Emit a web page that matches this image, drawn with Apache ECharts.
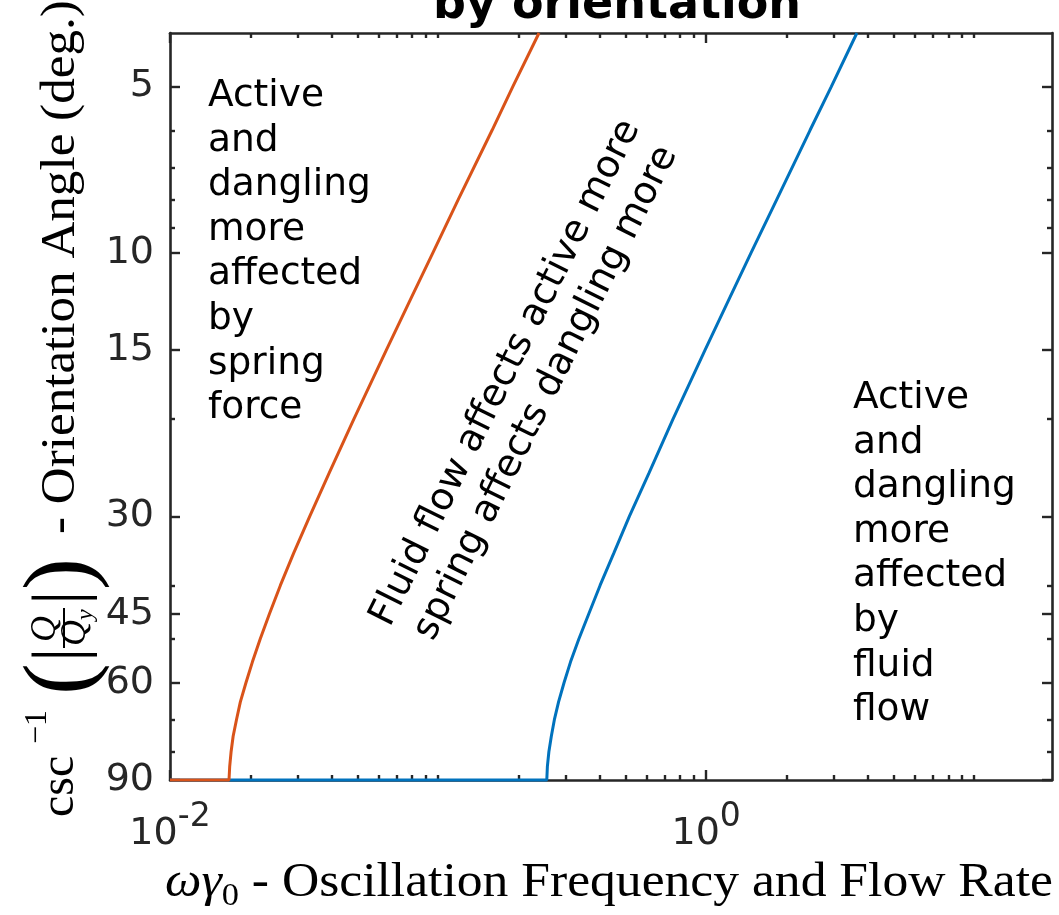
<!DOCTYPE html>
<html><head><meta charset="utf-8">
<script src="https://cdn.jsdelivr.net/npm/echarts@6/dist/echarts.min.js"></script>
<style>html,body{margin:0;padding:0;background:#fff}#c{width:1059px;height:915px}</style>
</head><body><div id="c"></div>
<script>
// ---- data ----
const angles      = [90, 85, 80, 75, 70, 65, 60, 55, 50, 45, 40, 35, 30, 25, 20, 15, 12, 10, 8, 6, 5, 4];
const orangeX     = [0.0166, 0.0167, 0.0169, 0.0172, 0.0177, 0.0183, 0.0192, 0.0203, 0.0217, 0.0235, 0.0258, 0.0289, 0.0332, 0.0393, 0.0485, 0.0641, 0.0798, 0.0956, 0.119, 0.159, 0.190, 0.238];
const blueX       = [0.2544, 0.2557, 0.259, 0.2645, 0.2715, 0.2815, 0.295, 0.312, 0.335, 0.365, 0.402, 0.452, 0.517, 0.613, 0.752, 0.99, 1.23, 1.47, 1.835, 2.44, 2.93, 3.65];
const startPoint  = [0.01, 90];
const xMajorTicks = [0.01, 1];
const xMinorTicks = [0.02,0.03,0.04,0.05,0.06,0.07,0.08,0.09,0.1,0.2,0.3,0.4,0.5,0.6,0.7,0.8,0.9,2,3,4,5,6,7,8,9,10];
const yMajorTicks = [5, 10, 15, 30, 45, 60, 90];
const yMinorTicks = [6, 7, 8, 9, 20, 40, 50, 70, 80];
const xRange = [0.01, 19.5];
const yRange = [4, 90];
const titleText = 'by orientation';
const leftNote  = ['Active','and','dangling','more','affected','by','spring','force'];
const rightNote = ['Active','and','dangling','more','affected','by','fluid','flow'];
const midNote   = ['Fluid flow affects active more','spring affects dangling more'];
const yLabelMain = '- Orientation Angle (deg.)';
const xLabelMain = ' - Oscillation Frequency and Flow Rate';

const AX = '#262626';
const TICKFONT = '"DejaVu Sans"';
const SERIF = '"Liberation Serif"';

function mkX(pos, custom, len, showLabel, showLine) {
  return {
    type: 'log', logBase: 10, min: xRange[0], max: xRange[1], position: pos, gridIndex: 0,
    axisLine: { show: showLine, onZero: false, lineStyle: { color: AX, width: 2.6 } },
    axisTick: { show: true, inside: true, length: len, customValues: custom, lineStyle: { color: AX, width: 2.4 } },
    axisLabel: showLabel ? {
      show: true, customValues: custom, margin: 21,
      formatter: v => '{b|10}{s|' + Math.round(Math.log10(v)) + '}',
      rich: {
        b: { fontSize: 38, fontFamily: TICKFONT, color: AX, lineHeight: 52, verticalAlign: 'bottom' },
        s: { fontSize: 33, fontFamily: TICKFONT, color: AX, lineHeight: 33, verticalAlign: 'top' }
      }
    } : { show: false },
    splitLine: { show: false }, minorTick: { show: false }, minorSplitLine: { show: false }
  };
}
function mkY(pos, custom, len, showLabel, showLine) {
  return {
    type: 'log', logBase: 10, min: yRange[0], max: yRange[1], inverse: true, position: pos, gridIndex: 0,
    axisLine: { show: showLine, onZero: false, lineStyle: { color: AX, width: 2.6 } },
    axisTick: { show: true, inside: true, length: len, customValues: custom, lineStyle: { color: AX, width: 2.4 } },
    axisLabel: showLabel ? {
      show: true, customValues: custom, margin: 16, fontSize: 38, fontFamily: TICKFONT, color: AX,
      formatter: v => String(Math.round(v))
    } : { show: false },
    splitLine: { show: false }, minorTick: { show: false }, minorSplitLine: { show: false }
  };
}

const orangeData = [startPoint].concat(angles.map((a, i) => [orangeX[i], a]));
const blueData   = [startPoint].concat(angles.map((a, i) => [blueX[i], a]));

const noteStyle = (lines, x, y) => ({
  type: 'text', x: x, y: y, z: 50,
  style: { text: lines.join('\n'), fontSize: 37.5, fontFamily: TICKFONT, fill: '#000', lineHeight: 44.6, align: 'left', verticalAlign: 'top' }
});

const yLabelGroup = {
  type: 'group', x: 0, y: 840, rotation: Math.PI / 2, z: 50,
  children: [
    { type: 'text', x: 23, y: 60, style: { text: 'csc', font: '48px ' + SERIF, fill: '#000', verticalAlign: 'middle', align: 'left' } },
    { type: 'text', x: 96, y: 38, style: { text: '\u22121', font: '32px ' + SERIF, fill: '#000', verticalAlign: 'middle', align: 'left' } },
    { type: 'text', x: 145, y: 64, style: { text: '(', font: '96px ' + SERIF, fill: '#000', verticalAlign: 'middle', align: 'left' } },
    { type: 'text', x: 178, y: 63, style: { text: '|', font: '72px ' + SERIF, fill: '#000', verticalAlign: 'middle', align: 'left' } },
    { type: 'text', x: 211, y: 46, style: { text: 'Q', font: 'italic 36px ' + SERIF, fill: '#000', verticalAlign: 'middle', align: 'center' } },
    { type: 'line', shape: { x1: 192, y1: 64, x2: 232, y2: 64 }, style: { stroke: '#000', lineWidth: 2 } },
    { type: 'text', x: 194, y: 78, style: { text: '{q|Q}{y|y}', fill: '#000', verticalAlign: 'middle', align: 'left',
        rich: { q: { font: 'italic 36px ' + SERIF, lineHeight: 40, verticalAlign: 'top' }, y: { font: 'italic 24px ' + SERIF, lineHeight: 24, verticalAlign: 'bottom' } } } },
    { type: 'text', x: 235, y: 63, style: { text: '|', font: '72px ' + SERIF, fill: '#000', verticalAlign: 'middle', align: 'left' } },
    { type: 'text', x: 250, y: 64, style: { text: ')', font: '96px ' + SERIF, fill: '#000', verticalAlign: 'middle', align: 'left' } },
    { type: 'text', x: 306, y: 61, scaleX: 1.065, style: { text: yLabelMain, font: '48px ' + SERIF, fill: '#000', verticalAlign: 'middle', align: 'left' } }
  ]
};

const xLabel = {
  type: 'text', x: 165, y: 883, scaleX: 1.075, z: 50,
  style: {
    text: '{it|\u03C9\u03B3}{sub|0}{r|' + xLabelMain + '}', verticalAlign: 'middle', align: 'left', fill: '#000',
    rich: {
      it: { font: 'italic 48px ' + SERIF, lineHeight: 60, verticalAlign: 'middle', fill: '#000' },
      sub: { font: '32px ' + SERIF, lineHeight: 32, verticalAlign: 'bottom', fill: '#000' },
      r: { font: '48px ' + SERIF, lineHeight: 60, verticalAlign: 'middle', fill: '#000' }
    }
  }
};

const chart = echarts.init(document.getElementById('c'), null, { renderer: 'canvas' });
chart.setOption({
  backgroundColor: '#fff',
  animation: false,
  grid: { left: 170, right: 7, top: 33, bottom: 135, containLabel: false },
  xAxis: [
    mkX('bottom', xMajorTicks, 10, true, true),
    mkX('bottom', xMinorTicks, 5, false, false),
    mkX('top', xMajorTicks, 10, false, true),
    mkX('top', xMinorTicks, 5, false, false)
  ],
  yAxis: [
    mkY('left', yMajorTicks, 10, true, true),
    mkY('left', yMinorTicks, 5, false, false),
    mkY('right', yMajorTicks, 10, false, true),
    mkY('right', yMinorTicks, 5, false, false)
  ],
  series: [
    { name: 'dangling', type: 'line', xAxisIndex: 0, yAxisIndex: 0, data: blueData, showSymbol: false, symbol: 'none', clip: false,
      lineStyle: { color: '#0072BD', width: 3 }, z: 3 },
    { name: 'active', type: 'line', xAxisIndex: 0, yAxisIndex: 0, data: orangeData, showSymbol: false, symbol: 'none', clip: false,
      lineStyle: { color: '#D95319', width: 3 }, z: 4 }
  ],
  graphic: [
    { type: 'text', x: 617, y: 6, z: 50, style: { text: titleText, font: 'bold 46px "DejaVu Sans"', fill: '#000', align: 'center', verticalAlign: 'middle' } },
    noteStyle(leftNote, 208, 74),
    noteStyle(rightNote, 853, 376),
    { type: 'text', x: 526, y: 383, rotation: 63.5 * Math.PI / 180, z: 50,
      style: { text: midNote.join('\n'), fontSize: 38, fontFamily: TICKFONT, fill: '#000', lineHeight: 45, align: 'center', verticalAlign: 'middle' } },
    yLabelGroup,
    xLabel
  ]
});
</script>
</body></html>
